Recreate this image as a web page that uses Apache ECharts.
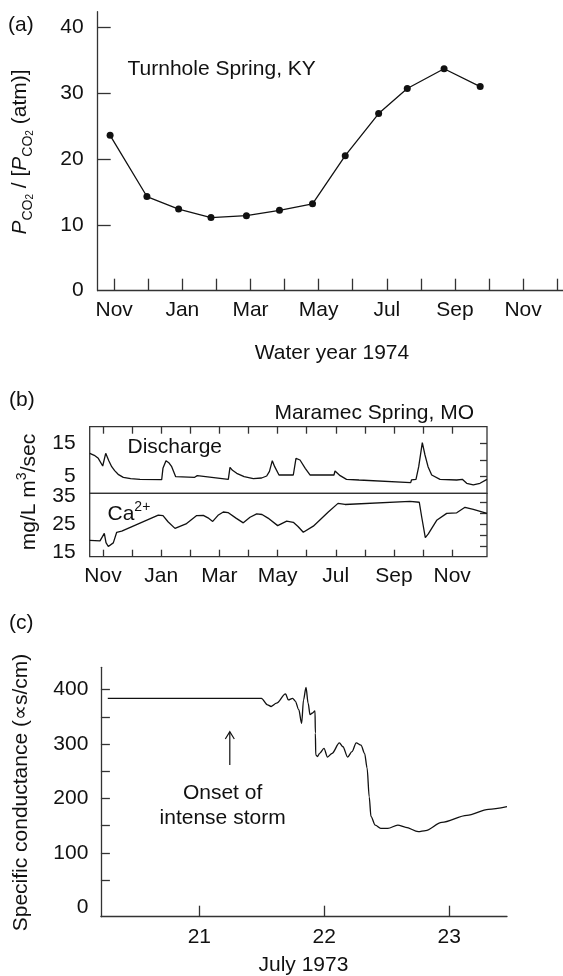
<html>
<head>
<meta charset="utf-8">
<title>Spring chemistry</title>
<script src="https://cdn.jsdelivr.net/npm/echarts@6/dist/echarts.min.js"></script>
<style>
  body { margin: 0; background: #fff; }
  #main { width: 563px; height: 976px; }
</style>
</head>
<body>
<div id="main"></div>
<script type="text/javascript">
// month axis: 0 = Nov, 1 = Dec, ... 12 = Nov
var monthNames = ['Nov', 'Dec', 'Jan', 'Feb', 'Mar', 'Apr', 'May', 'Jun', 'Jul', 'Aug', 'Sep', 'Oct'];
var monthLabelTicks = [0, 2, 4, 6, 8, 10, 12];

// (a) Turnhole Spring, KY
var turnholeMonth = [-0.12, 0.96, 1.89, 2.84, 3.88, 4.85, 5.82, 6.78, 7.76, 8.6, 9.68, 10.74];
var turnholeRatio = [23.6, 14.3, 12.4, 11.1, 11.4, 12.2, 13.2, 20.5, 26.9, 30.7, 33.7, 31.0];

// (b) Maramec Spring, MO
var dischargeMonth = [-0.454, -0.30, -0.162, -0.01, 0.093, 0.20, 0.299, 0.40, 0.52, 0.698, 0.95, 1.271,
  2.017, 2.06, 2.165, 2.26, 2.361, 2.498, 3.15, 3.2, 3.24, 3.28, 4.306, 4.364, 4.45, 4.595, 4.85,
  5.165, 5.45, 5.625, 5.72, 5.818, 5.90, 6.048, 6.54, 6.632, 6.77, 6.95, 7.113, 7.938, 7.973, 8.15,
  8.368, 8.797, 10.574, 10.601, 10.756, 10.849, 10.973, 11.065, 11.17, 11.296, 11.581, 12.155,
  12.347, 12.498, 12.725, 12.955, 13.196];
var dischargeValue = [12.0, 11.4, 10.5, 8.2, 12.0, 9.8, 8.0, 6.8, 5.7, 4.8, 4.4, 4.2,
  4.1, 7.5, 9.8, 9.2, 8.0, 5.0, 4.8, 4.3, 5.3, 4.9, 4.2, 7.8, 6.9, 6.0, 5.0,
  4.4, 4.6, 5.2, 6.6, 9.8, 8.0, 5.5, 5.5, 10.5, 10.0, 7.5, 5.5, 5.5, 6.7, 5.3,
  4.2, 4.0, 3.2, 4.0, 4.2, 8.0, 15.2, 11.5, 8.0, 5.5, 4.2, 4.0,
  4.2, 3.0, 2.5, 3.0, 4.2];

var calciumMonth = [-0.457, -0.103, 0.045, 0.103, 0.182, 0.354, 0.471, 0.643, 1.9, 2.062, 2.234,
  2.474, 2.852, 3.22, 3.447, 3.608, 3.77, 3.952, 4.134, 4.296, 4.57, 4.821, 5.052, 5.282, 5.464,
  5.67, 6.003, 6.313, 6.54, 6.701, 6.883, 7.227, 7.742, 8.076, 8.316, 10.55, 10.869, 10.952,
  11.076, 11.179, 11.467, 11.811, 12.155, 12.44, 12.725, 13.196];
var calciumValue = [19.3, 19.1, 21.8, 18.5, 17.1, 18.4, 22.2, 22.6, 28.4, 28.2, 26.0,
  23.6, 25.2, 28.2, 28.3, 27.4, 26.1, 28.3, 29.5, 29.3, 27.3, 25.6, 27.6, 28.8, 28.6,
  27.3, 24.6, 26.2, 25.8, 24.3, 22.2, 24.4, 29.5, 32.6, 32.2, 33.3, 33.0, 27.7,
  20.3, 21.6, 26.5, 29.0, 29.2, 31.2, 30.4, 29.0];

// (c) storm, July 1973
var stormDay = [20.267, 21.497, 21.546, 21.575, 21.618, 21.69, 21.713, 21.747, 21.768, 21.796,
  21.819, 21.834, 21.854, 21.871, 21.886, 21.906, 21.926, 21.929, 21.932, 21.945, 21.963, 21.998,
  22.026, 22.063, 22.121, 22.15, 22.187, 22.222, 22.256, 22.294, 22.323, 22.343, 22.36, 22.374,
  22.408, 22.452, 22.509, 22.589, 22.653, 22.753, 22.811, 22.941, 23.142, 23.314, 23.463];
var stormConductance = [384, 384, 372, 369, 375, 392, 381, 384, 379, 363,
  338, 381, 404, 375, 354, 357, 361, 320, 280, 277, 283, 292,
  276, 283, 302, 295, 276, 286, 302, 298, 283, 256, 203, 167,
  151, 145, 145, 151, 147, 139, 141, 156, 169, 180, 185];

var FONT = 'Liberation Sans, Arial, Helvetica, sans-serif';
var INK = '#111';
var AXIS = '#333';

function zip(xs, ys) {
  return xs.map(function (x, i) { return [x, ys[i]]; });
}
function range(a, b, step) {
  var out = [];
  for (var v = a; v <= b; v += step) out.push(v);
  return out;
}
var labelStyle = { fontFamily: FONT, fontSize: 21, color: INK };
var lineStyle = { color: AXIS, width: 1.3 };

var myChart = echarts.init(document.getElementById('main'));

var option = {
  animation: false,
  backgroundColor: '#fff',
  grid: [
    { left: 97.7, top: 11.7, width: 465.3, height: 279 },
    { left: 89.7, top: 426.7, width: 397.3, height: 66.6, show: true, borderColor: AXIS, borderWidth: 1.3 },
    { left: 89.7, top: 493.3, width: 397.3, height: 63.4, show: true, borderColor: AXIS, borderWidth: 1.3 },
    { left: 100.9, top: 667.3, width: 406.1, height: 249.4 }
  ],
  xAxis: [
    {
      gridIndex: 0, type: 'value', min: -0.484, max: 13.17,
      axisLine: { onZero: false, lineStyle: lineStyle },
      axisTick: { inside: true, length: 12, customValues: range(0, 13, 1), lineStyle: lineStyle },
      axisLabel: Object.assign({ customValues: monthLabelTicks, margin: 9,
        formatter: function (v) { return monthNames[Math.round(v) % 12]; } }, labelStyle),
      splitLine: { show: false }
    },
    {
      gridIndex: 1, type: 'value', position: 'top', min: -0.457, max: 13.196,
      axisLine: { show: false, onZero: false },
      axisTick: { inside: true, length: 7, customValues: range(0, 12, 1), lineStyle: lineStyle },
      axisLabel: { show: false },
      splitLine: { show: false }
    },
    {
      gridIndex: 2, type: 'value', min: -0.457, max: 13.196,
      axisLine: { show: false, onZero: false },
      axisTick: { inside: true, length: 7, customValues: range(0, 12, 1), lineStyle: lineStyle },
      axisLabel: Object.assign({ customValues: monthLabelTicks, margin: 9.5,
        formatter: function (v) { return monthNames[Math.round(v) % 12]; } }, labelStyle),
      splitLine: { show: false }
    },
    {
      gridIndex: 3, type: 'value', min: 20.212, max: 23.463,
      axisLine: { onZero: false, lineStyle: lineStyle },
      axisTick: { inside: true, length: 11, customValues: [21, 22, 23], lineStyle: lineStyle },
      axisLabel: Object.assign({ customValues: [21, 22, 23], margin: 10.5 }, labelStyle),
      splitLine: { show: false }
    }
  ],
  yAxis: [
    {
      gridIndex: 0, type: 'value', min: 0, max: 42.37,
      axisLine: { show: true, onZero: false, lineStyle: lineStyle },
      axisTick: { show: true, inside: true, length: 13, customValues: [10, 20, 30, 40], lineStyle: lineStyle },
      axisLabel: Object.assign({ customValues: [0, 10, 20, 30, 40], margin: 14 }, labelStyle),
      splitLine: { show: false }
    },
    {
      gridIndex: 1, type: 'value', min: 0, max: 20,
      axisLine: { show: false }, axisTick: { show: false },
      axisLabel: Object.assign({ customValues: [5, 15], margin: 14 }, labelStyle),
      splitLine: { show: false }
    },
    {
      gridIndex: 1, type: 'value', position: 'right', min: 0, max: 20,
      axisLine: { show: false },
      axisTick: { show: true, inside: true, length: 7, customValues: [5, 10, 15], lineStyle: lineStyle },
      axisLabel: { show: false },
      splitLine: { show: false }
    },
    {
      gridIndex: 2, type: 'value', min: 13.42, max: 36.22,
      axisLine: { show: false }, axisTick: { show: false },
      axisLabel: Object.assign({ customValues: [15, 25, 35], margin: 14 }, labelStyle),
      splitLine: { show: false }
    },
    {
      gridIndex: 2, type: 'value', position: 'right', min: 13.42, max: 36.22,
      axisLine: { show: false },
      axisTick: { show: true, inside: true, length: 7, customValues: [17, 21, 25, 29, 33], lineStyle: lineStyle },
      axisLabel: { show: false },
      splitLine: { show: false }
    },
    {
      gridIndex: 3, type: 'value', min: -17.3, max: 441,
      axisLine: { show: true, onZero: false, lineStyle: lineStyle },
      axisTick: { show: true, inside: true, length: 9, customValues: range(50, 400, 50), lineStyle: lineStyle },
      axisLabel: Object.assign({ customValues: [0, 100, 200, 300, 400], margin: 12.5 }, labelStyle),
      splitLine: { show: false }
    }
  ],
  series: [
    {
      type: 'line', xAxisIndex: 0, yAxisIndex: 0,
      data: zip(turnholeMonth, turnholeRatio),
      symbol: 'circle', symbolSize: 7,
      itemStyle: { color: '#111' },
      lineStyle: { color: '#111', width: 1.3 }
    },
    {
      type: 'line', xAxisIndex: 1, yAxisIndex: 1,
      data: zip(dischargeMonth, dischargeValue),
      showSymbol: false,
      lineStyle: { color: '#111', width: 1.3 }
    },
    {
      type: 'line', xAxisIndex: 2, yAxisIndex: 3,
      data: zip(calciumMonth, calciumValue),
      showSymbol: false,
      lineStyle: { color: '#111', width: 1.3 }
    },
    {
      type: 'line', xAxisIndex: 3, yAxisIndex: 5,
      data: zip(stormDay, stormConductance),
      showSymbol: false, smooth: 0.3, smoothMonotone: 'x',
      lineStyle: { color: '#111', width: 1.3 }
    }
  ],
  graphic: [
    { type: 'text', x: 8, y: 25, style: { text: '(a)', fontFamily: FONT, fontSize: 21, fill: INK, align: 'left', verticalAlign: 'middle' } },
    { type: 'text', x: 9, y: 400, style: { text: '(b)', fontFamily: FONT, fontSize: 21, fill: INK, align: 'left', verticalAlign: 'middle' } },
    { type: 'text', x: 9, y: 623, style: { text: '(c)', fontFamily: FONT, fontSize: 21, fill: INK, align: 'left', verticalAlign: 'middle' } },
    { type: 'text', x: 127.5, y: 69, style: { text: 'Turnhole Spring, KY', fontFamily: FONT, fontSize: 21, fill: INK, align: 'left', verticalAlign: 'middle' } },
    { type: 'text', x: 332, y: 353, style: { text: 'Water year 1974', fontFamily: FONT, fontSize: 21, fill: INK, align: 'center', verticalAlign: 'middle' } },
    { type: 'text', x: 474, y: 413, style: { text: 'Maramec Spring, MO', fontFamily: FONT, fontSize: 21, fill: INK, align: 'right', verticalAlign: 'middle' } },
    { type: 'text', x: 127.5, y: 447, style: { text: 'Discharge', fontFamily: FONT, fontSize: 21, fill: INK, align: 'left', verticalAlign: 'middle' } },
    { type: 'text', x: 107.5, y: 514, style: {
        text: '{n|Ca}{sup|2+}', fill: INK, align: 'left', verticalAlign: 'middle',
        rich: {
          n: { fontFamily: FONT, fontSize: 21, lineHeight: 28, fill: INK },
          sup: { fontFamily: FONT, fontSize: 14, lineHeight: 14, verticalAlign: 'top', fill: INK }
        } } },
    { type: 'text', x: 222.6, y: 793, style: { text: 'Onset of', fontFamily: FONT, fontSize: 21, fill: INK, align: 'center', verticalAlign: 'middle' } },
    { type: 'text', x: 222.6, y: 818.5, style: { text: 'intense storm', fontFamily: FONT, fontSize: 21, fill: INK, align: 'center', verticalAlign: 'middle' } },
    { type: 'line', shape: { x1: 229.8, y1: 765, x2: 229.8, y2: 732.5 }, style: { stroke: INK, lineWidth: 1.2 } },
    { type: 'polyline', shape: { points: [[225.3, 739], [229.8, 731.7], [234.3, 739]] }, style: { stroke: INK, lineWidth: 1.2, fill: null } },
    { type: 'text', x: 303.4, y: 965, style: { text: 'July 1973', fontFamily: FONT, fontSize: 21, fill: INK, align: 'center', verticalAlign: 'middle' } },
    { type: 'text', x: 20, y: 152, rotation: Math.PI / 2, style: {
        text: '{i|P}{s|CO}{s2|2}{n| / [}{i|P}{s|CO}{s2|2}{n| (atm)]}', fill: INK, align: 'center', verticalAlign: 'middle',
        rich: {
          i: { fontFamily: FONT, fontSize: 21, fontStyle: 'italic', lineHeight: 30, fill: INK },
          n: { fontFamily: FONT, fontSize: 21, lineHeight: 30, fill: INK },
          s: { fontFamily: FONT, fontSize: 14, lineHeight: 14, verticalAlign: 'bottom', fill: INK },
          s2: { fontFamily: FONT, fontSize: 10, lineHeight: 10, verticalAlign: 'bottom', fill: INK }
        } } },
    { type: 'text', x: 29, y: 492, rotation: Math.PI / 2, style: {
        text: '{n|mg/L m}{sup|3}{n|/sec}', fill: INK, align: 'center', verticalAlign: 'middle',
        rich: {
          n: { fontFamily: FONT, fontSize: 21, lineHeight: 28, fill: INK },
          sup: { fontFamily: FONT, fontSize: 14, lineHeight: 14, verticalAlign: 'top', fill: INK }
        } } },
    { type: 'text', x: 21.5, y: 792.5, rotation: Math.PI / 2, style: { text: 'Specific conductance (\u221Ds/cm)', fontFamily: FONT, fontSize: 21, fill: INK, align: 'center', verticalAlign: 'middle' } }
  ]
};

myChart.setOption(option);
</script>
</body>
</html>
